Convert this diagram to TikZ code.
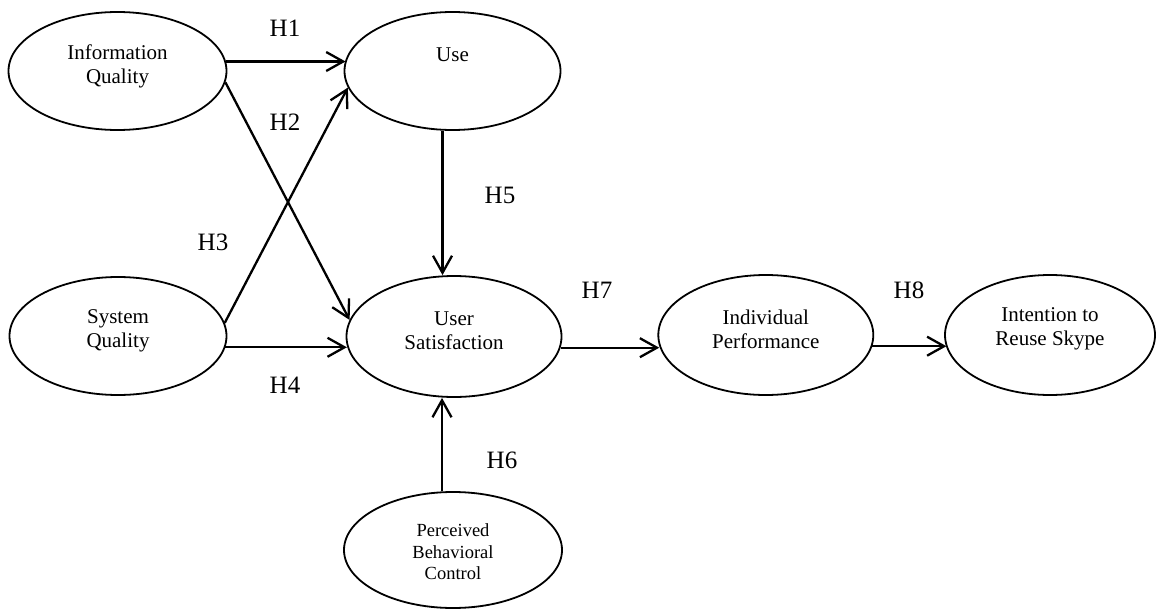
\documentclass[tikz,border=0pt]{standalone}
\usepackage{fontspec}
\setmainfont{Liberation Serif}
\usetikzlibrary{arrows.meta,shapes.geometric}
\begin{document}
\begin{tikzpicture}[x=1pt,y=1pt,
  el/.style={draw, ellipse, line width=1.8pt, inner sep=0pt},
  eltext/.style={align=center, inner sep=0pt, font=\fontsize{21}{24}\selectfont},
  smalltext/.style={align=center, inner sep=0pt, font=\fontsize{18.5}{21.5}\selectfont},
  hyp/.style={font=\fontsize{25}{30}\selectfont, inner sep=0pt},
  arr/.style={line width=2.3pt, -{Straight Barb[length=17pt,width=19pt]}}]
\useasboundingbox (0,0) rectangle (1156,-610);

\node[el, minimum width=218pt, minimum height=118pt,
  label={[eltext, yshift=5pt]center:Information\\Quality}] (iq) at (117.5,-71) {};
\node[el, minimum width=216pt, minimum height=118pt,
  label={[eltext, yshift=16pt]center:Use}] (use) at (452.5,-71) {};
\node[el, minimum width=217pt, minimum height=118pt,
  label={[eltext, yshift=5.5pt]center:System\\Quality}] (sq) at (118,-336) {};
\node[el, minimum width=215pt, minimum height=121pt,
  label={[eltext, yshift=6pt]center:User\\Satisfaction}] (us) at (454,-336.5) {};
\node[el, minimum width=215pt, minimum height=120pt,
  label={[eltext, yshift=5.7pt]center:Individual\\Performance}] (ip) at (765.8,-335) {};
\node[el, minimum width=210pt, minimum height=120pt,
  label={[eltext, yshift=5.7pt]center:Intention to\\Reuse Skype}] (it) at (1050,-335) {};
\node[el, minimum width=218pt, minimum height=116pt,
  label={[smalltext, yshift=-2pt]center:Perceived\\Behavioral\\Control}] (pbc) at (453,-550) {};

% connectors
\draw[arr] (iq.5.9) -- (iq.5.9 -| use.174.1);
\draw[arr] (iq.-6.4) -- (us.171.9);
\draw[arr] (sq.7) -- (use.189.3);
\draw[arr] (sq.-6.1) -- (sq.-6.1 -| us.185.9);
\draw[arr] ([xshift=-10pt]use.south) -- ([xshift=-10pt]use.south |- us.north);
\draw[arr] ([xshift=-11pt]pbc.north) -- ([xshift=-11pt]pbc.north |- us.south);
\draw[arr] (us.-6) -- (us.-6 -| ip.186.9);
\draw[arr] (ip.-6.9) -- (ip.-6.9 -| it.187);

% hypothesis labels
\node[hyp] (h1) at (285,-28) {H1};
\node[hyp] (h2) at (285,-122) {H2};
\node[hyp] (h3) at (213,-242) {H3};
\node[hyp] (h4) at (285,-385) {H4};
\node[hyp] (h5) at (500,-195) {H5};
\node[hyp] (h6) at (502,-460) {H6};
\node[hyp] (h7) at (597,-290) {H7};
\node[hyp] (h8) at (909,-290) {H8};
\end{tikzpicture}
\end{document}
